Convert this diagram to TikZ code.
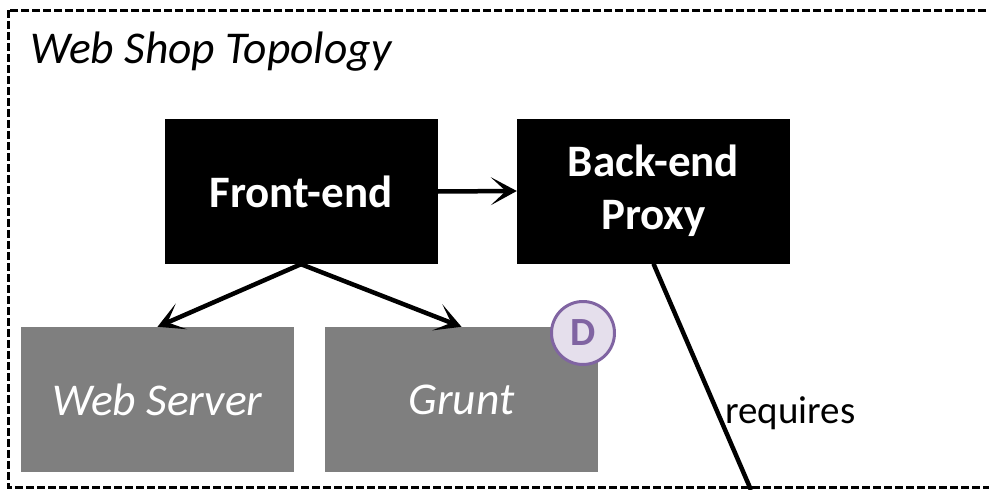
\documentclass[tikz,border=0pt]{standalone}
\usepackage{fontspec}
\setmainfont{Carlito}
\usetikzlibrary{arrows.meta}
\definecolor{compgray}{HTML}{7F7F7F}
\definecolor{dline}{HTML}{8064A2}
\definecolor{dfill}{HTML}{E5DFEC}
\tikzset{
  svcbox/.style={fill=black, text=white, minimum width=273pt, minimum height=145pt, inner sep=0pt, align=center, font=\fontsize{45}{53}\selectfont\bfseries},
  compbox/.style={fill=compgray, text=white, minimum width=273pt, minimum height=145pt, inner sep=0pt, font=\fontsize{45.5}{54}\selectfont\itshape},
  conn/.style={line width=4.5pt, -{Stealth[length=26pt, width=28pt, inset=15pt]}}
}
\begin{document}
\begin{tikzpicture}[x=1pt, y=-1pt]
        \useasboundingbox (0,0) rectangle (989,490);
        \clip (0,0) rectangle (989,490);
        \draw[line width=3pt, dash pattern=on 8pt off 3pt] (8,10) rectangle (1010,487);
        \node[anchor=base west, font=\fontsize{45.5}{54}\selectfont\itshape] (title) at (27,63) {Web Shop Topology};
        \node[svcbox] (frontend) at (301,191.5) {Front-end};
        \node[svcbox] (backend) at (653.5,191) {Back-end\\Proxy};
        \node[compbox] (webserver) at (157.5,399.5) {Web Server};
        \node[compbox] (grunt) at (461.5,399.5) {Grunt};
        \node[circle, draw=dline, fill=dfill, line width=3pt, minimum size=63pt, inner sep=0pt, text=dline, font=\fontsize{40}{48}\selectfont\bfseries] (dmark) at (583,333) {D};
        \coordinate (reqend) at (751,490);
            \draw[conn] (frontend.east) -- (backend.west);
            \draw[conn] (frontend.south) -- (webserver.north);
            \draw[conn] (frontend.south) -- (grunt.north);
            \draw[line width=4.5pt] (backend.south) --node[pos=0.66, right, inner sep=5pt, font=\fontsize{39}{46}\selectfont]{requires} (reqend);
        \end{tikzpicture}
\end{document}
